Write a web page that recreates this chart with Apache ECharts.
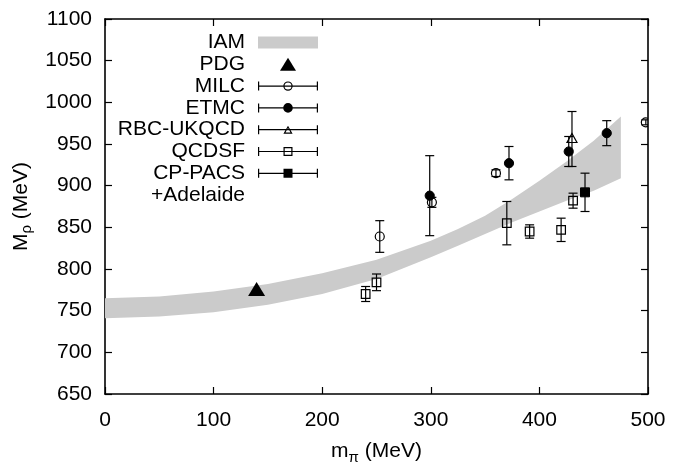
<!DOCTYPE html>
<html><head><meta charset="utf-8">
<script src="https://cdn.jsdelivr.net/npm/echarts/dist/echarts.min.js"></script>
<style>html,body{margin:0;padding:0;background:#fff}#c{width:689px;height:470px}</style>
</head><body><div id="c"></div>
<script>
// ---- data ----
const xTicks = [0, 100, 200, 300, 400, 500];
const yTicks = [650, 700, 750, 800, 850, 900, 950, 1000, 1050, 1100];
// IAM band
const bandX     = [0,   50,  100, 150, 200, 250, 300, 325, 350, 375, 400, 425, 450, 475];
const bandUpper = [765, 767, 773, 782, 795, 811, 834, 848, 864, 884, 906, 929, 954, 983];
const bandLower = [741, 743, 748, 757, 770, 788, 814, 828, 842, 856, 869, 882, 894, 909];
// [m_pi, M_rho, error]
const pdg    = [[139.6, 776]];
const milc   = [[253, 839, 19], [301, 880, 6], [360, 915, 4], [498, 976, 3]];
const etmc   = [[299, 888, 48], [372, 927, 20], [427, 941, 18], [462, 963, 15]];
const rbc    = [[430, 956, 33]];
const qcdsf  = [[240, 770, 9], [250, 784, 10], [370, 855, 26], [391, 845, 8], [420, 847, 14], [431, 882, 9]];
const cppacs = [[442, 892, 23]];

const FONT = 'Liberation Sans';
const FS = 21;
const chart = echarts.init(document.getElementById('c'), null, {renderer: 'canvas'});

function errRender(marker) {
  return function (params, api) {
    const x = api.value(0), y = api.value(1), e = api.value(2);
    const p = api.coord([x, y]), t = api.coord([x, y + e]), b = api.coord([x, y - e]);
    const cw = 4.5;
    const ls = {stroke: '#000', lineWidth: 1.2, fill: null};
    const ch = [
      {type: 'line', shape: {x1: p[0], y1: t[1], x2: p[0], y2: b[1]}, style: ls},
      {type: 'line', shape: {x1: p[0] - cw, y1: t[1], x2: p[0] + cw, y2: t[1]}, style: ls},
      {type: 'line', shape: {x1: p[0] - cw, y1: b[1], x2: p[0] + cw, y2: b[1]}, style: ls}
    ];
    const open = {stroke: '#000', lineWidth: 1.2, fill: 'none'};
    const full = {stroke: '#000', lineWidth: 1, fill: '#000'};
    if (marker === 'ocircle') ch.push({type: 'circle', shape: {cx: p[0], cy: p[1], r: 4.5}, style: open});
    if (marker === 'fcircle') ch.push({type: 'circle', shape: {cx: p[0], cy: p[1], r: 4.6}, style: full});
    if (marker === 'osquare') ch.push({type: 'rect', shape: {x: p[0] - 4.3, y: p[1] - 4.3, width: 8.6, height: 8.6}, style: open});
    if (marker === 'fsquare') ch.push({type: 'rect', shape: {x: p[0] - 4.5, y: p[1] - 4.5, width: 9, height: 9}, style: full});
    if (marker === 'otri') ch.push({type: 'polygon', shape: {points: [[p[0], p[1] - 5.5], [p[0] + 5, p[1] + 3.5], [p[0] - 5, p[1] + 3.5]]}, style: open});
    return {type: 'group', children: ch};
  };
}

// legend icon paths (60 x 13 box)
const A = 'M0 0 M60 13 ';
const BAR = 'M0 2 H1.2 V11 H0 Z M58.8 2 H60 V11 H58.8 Z M0 5.9 H60 V7.1 H0 Z ';
const iconIAM = 'path://' + A + 'M0 0.5 H60 V12.5 H0 Z';
const iconPDG = 'path://' + A + 'M30 0 L38 13 L22 13 Z';
const iconMILC = 'path://' + A + BAR + 'M25.3 6.5 A4.7 4.7 0 1 1 34.7 6.5 A4.7 4.7 0 1 1 25.3 6.5 Z M26.5 6.5 A3.5 3.5 0 1 0 33.5 6.5 A3.5 3.5 0 1 0 26.5 6.5 Z';
const iconETMC = 'path://' + A + BAR + 'M25.2 6.5 A4.8 4.8 0 1 1 34.8 6.5 A4.8 4.8 0 1 1 25.2 6.5 Z';
const iconRBC = 'path://' + A + BAR + 'M30 2.5 L34.6 10.5 L25.4 10.5 Z M30 4.9 L27.5 9.3 L32.5 9.3 Z';
const iconQCD = 'path://' + A + BAR + 'M25.5 2 H34.5 V11 H25.5 Z M26.7 3.2 V9.8 H33.3 V3.2 Z';
const iconCP = 'path://' + A + BAR + 'M25.5 2 H34.5 V11 H25.5 Z';

const axisCommon = {
  axisLine: {show: true, onZero: false, lineStyle: {color: '#000', width: 1.6}},
  axisTick: {show: true, inside: true, length: 7, lineStyle: {color: '#000', width: 1.2}},
  splitLine: {show: false}
};

const option = {
  backgroundColor: '#fff',
  animation: false,
  grid: {left: 105, right: 41, top: 19, bottom: 65, containLabel: false},
  xAxis: [
    Object.assign({
      type: 'value', min: 0, max: 500, interval: 100, position: 'bottom',
      name: 'm{s|π} (MeV)', nameLocation: 'middle', nameGap: 44,
      nameTextStyle: {fontFamily: FONT, fontSize: FS, color: '#000', rich: {s: {fontFamily: FONT, fontSize: 15, padding: [12, 0, 0, 0]}}},
      axisLabel: {fontFamily: FONT, fontSize: FS, color: '#000', margin: 16,
        formatter: v => xTicks.includes(v) ? String(v) : ''}
    }, axisCommon),
    Object.assign({type: 'value', min: 0, max: 500, interval: 100, position: 'top', axisLabel: {show: false}}, axisCommon)
  ],
  yAxis: [
    Object.assign({
      type: 'value', min: 650, max: 1100, interval: 50, position: 'left',
      name: 'M{s|ρ} (MeV)', nameLocation: 'middle', nameGap: 64, nameRotate: 90,
      nameTextStyle: {fontFamily: FONT, fontSize: FS, color: '#000', rich: {s: {fontFamily: FONT, fontSize: 15, padding: [12, 0, 0, 0]}}},
      axisLabel: {fontFamily: FONT, fontSize: FS, color: '#000', margin: 13,
        formatter: v => yTicks.includes(v) ? String(v) : ''}
    }, axisCommon),
    Object.assign({type: 'value', min: 650, max: 1100, interval: 50, position: 'right', axisLabel: {show: false}}, axisCommon)
  ],
  legend: {
    orient: 'vertical', right: 366, top: 27, align: 'right',
    itemWidth: 60, itemHeight: 13, itemGap: 0.8, selectedMode: false,
    textStyle: {fontFamily: FONT, fontSize: FS, color: '#000', lineHeight: 20, padding: [0, 8, 0, 0]},
    data: [
      {name: 'IAM', icon: iconIAM, itemStyle: {color: '#cbcbcb'}},
      {name: 'PDG', icon: iconPDG, itemStyle: {color: '#000'}},
      {name: 'MILC', icon: iconMILC, itemStyle: {color: '#000'}},
      {name: 'ETMC', icon: iconETMC, itemStyle: {color: '#000'}},
      {name: 'RBC-UKQCD', icon: iconRBC, itemStyle: {color: '#000'}},
      {name: 'QCDSF', icon: iconQCD, itemStyle: {color: '#000'}},
      {name: 'CP-PACS', icon: iconCP, itemStyle: {color: '#000'}},
      {name: '+Adelaide', icon: 'rect', itemStyle: {color: 'rgba(0,0,0,0)', opacity: 0}}
    ]
  },
  series: [
    {
      name: 'IAM', type: 'custom', clip: true, z: 1,
      itemStyle: {color: '#cbcbcb'},
      data: [[bandX[0], bandLower[0]]],
      renderItem: function (params, api) {
        const pts = [];
        for (let i = 0; i < bandX.length; i++) pts.push(api.coord([bandX[i], bandUpper[i]]));
        for (let i = bandX.length - 1; i >= 0; i--) pts.push(api.coord([bandX[i], bandLower[i]]));
        return {type: 'polygon', shape: {points: pts}, style: {fill: '#cbcbcb', stroke: null}};
      }
    },
    {name: 'PDG', type: 'scatter', data: pdg, symbol: 'triangle', symbolSize: [17, 14], itemStyle: {color: '#000', opacity: 1}, z: 5},
    {name: 'MILC', type: 'custom', clip: true, z: 4, itemStyle: {color: '#000'}, data: milc, renderItem: errRender('ocircle')},
    {name: 'ETMC', type: 'custom', clip: true, z: 4, itemStyle: {color: '#000'}, data: etmc, renderItem: errRender('fcircle')},
    {name: 'RBC-UKQCD', type: 'custom', clip: true, z: 4, itemStyle: {color: '#000'}, data: rbc, renderItem: errRender('otri')},
    {name: 'QCDSF', type: 'custom', clip: true, z: 4, itemStyle: {color: '#000'}, data: qcdsf, renderItem: errRender('osquare')},
    {name: 'CP-PACS', type: 'custom', clip: true, z: 4, itemStyle: {color: '#000'}, data: cppacs, renderItem: errRender('fsquare')},
    {name: '+Adelaide', type: 'scatter', data: []}
  ]
};
chart.setOption(option);
</script>
</body></html>
